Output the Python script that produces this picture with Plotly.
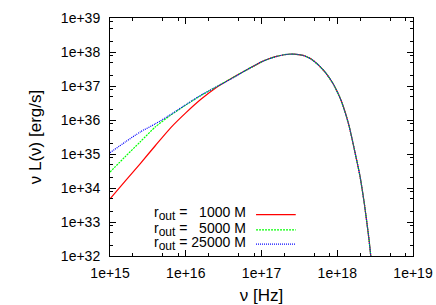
import plotly.graph_objects as go

# log10 of frequency [Hz] at which values were read
log_nu = [15.0, 15.2, 15.4, 15.6, 15.8, 16.0, 16.2, 16.4, 16.6, 16.8, 17.0, 17.1, 17.2, 17.3,
          17.42, 17.55, 17.65, 17.75, 17.85, 17.95, 18.05, 18.15, 18.234, 18.30, 18.36, 18.42, 18.47]

# log10 of nu L(nu) [erg/s]
tail = [37.47, 37.71, 37.80, 37.87, 37.92, 37.94, 37.90, 37.80, 37.62, 37.38, 37.05,
        36.58, 35.88, 35.05, 34.35, 33.50, 32.47, 31.40]
log_L_1000 = [33.68, 34.20, 34.72, 35.25, 35.77, 36.21, 36.61, 36.95, 37.22] + tail
log_L_5000 = [34.47, 34.92, 35.36, 35.80, 36.14, 36.44, 36.72, 36.97, 37.22] + tail
log_L_25000 = [35.04, 35.35, 35.65, 35.89, 36.16, 36.45, 36.73, 36.97, 37.21] + tail

series_names = ["1000", "5000", "25000"]
series_vals = [log_L_1000, log_L_5000, log_L_25000]
colors = ["#ff0000", "#00ff00", "#0000ff"]
dashes = ["solid", "2px,1px", "1px,1px"]

x_tick_exp = [15, 16, 17, 18, 19]
y_tick_exp = [32, 33, 34, 35, 36, 37, 38, 39]

nu = [10.0 ** v for v in log_nu]

fig = go.Figure()
for name, vals, c, d in zip(series_names, series_vals, colors, dashes):
    fig.add_trace(go.Scatter(
        x=nu, y=[10.0 ** v for v in vals], mode="lines", name=name,
        line=dict(color=c, width=1.2, dash=d, shape="spline", smoothing=0.6),
        showlegend=False, cliponaxis=True))

font = "Liberation Sans, Arial, sans-serif"

def minor_vals(exps):
    out = []
    for e in exps[:-1]:
        for m in (2, 5, 8):
            out.append(m * 10.0 ** e)
    return out

fig.update_layout(
    width=436, height=305,
    margin=dict(l=110, r=23, t=18, b=49),
    paper_bgcolor="white", plot_bgcolor="white",
    font=dict(family=font, size=14, color="black"),
    xaxis=dict(
        type="log", range=[15, 19], automargin=False,
        tickvals=[10.0 ** e for e in x_tick_exp],
        ticktext=["1e+%d" % e for e in x_tick_exp],
        ticks="inside", ticklen=6, tickwidth=1, tickcolor="black",
        showline=True, linecolor="black", linewidth=1, mirror="ticks",
        showgrid=False, zeroline=False,
        minor=dict(tickmode="array", tickvals=minor_vals(x_tick_exp), ticks="inside",
                   ticklen=3, tickcolor="black", showgrid=False),
        title=dict(text="ν [Hz]"),
        ticklabelstandoff=4,
    ),
    yaxis=dict(
        type="log", range=[32, 39], automargin=False,
        tickvals=[10.0 ** e for e in y_tick_exp],
        ticktext=["1e+%d" % e for e in y_tick_exp],
        ticks="inside", ticklen=6, tickwidth=1, tickcolor="black",
        showline=True, linecolor="black", linewidth=1, mirror="ticks",
        showgrid=False, zeroline=False,
        minor=dict(tickmode="array", tickvals=minor_vals(y_tick_exp), ticks="inside",
                   ticklen=3, tickcolor="black", showgrid=False),
        title=dict(text="ν L(ν) [erg/s]", standoff=14),
        ticklabelstandoff=6,
    ),
)

# key (gnuplot style: text right-justified, sample to the right)
nb = "\u00a0"
sub = "r<sub><span style='font-size:12px'>out</span></sub>"
labels = [sub + " =" + nb * 3 + "1000 M",
          sub + " =" + nb * 3 + "5000 M",
          sub + " =" + nb + "25000 M"]
row_y = [0.177, 0.113, 0.053]
for lab, yy, c, d in zip(labels, row_y, colors, dashes):
    fig.add_annotation(x=0.455, y=yy, xref="paper", yref="paper", text=lab,
                       showarrow=False, xanchor="right", yanchor="middle",
                       font=dict(size=14, family=font))
    fig.add_shape(type="line", xref="paper", yref="paper", x0=0.482, x1=0.613,
                  y0=yy - 0.003, y1=yy - 0.003, line=dict(color=c, width=1.2, dash=d))

fig.write_html("out.html", config={"displayModeBar": False},
               post_script="document.body.style.margin='0px';document.body.style.padding='0px';")
